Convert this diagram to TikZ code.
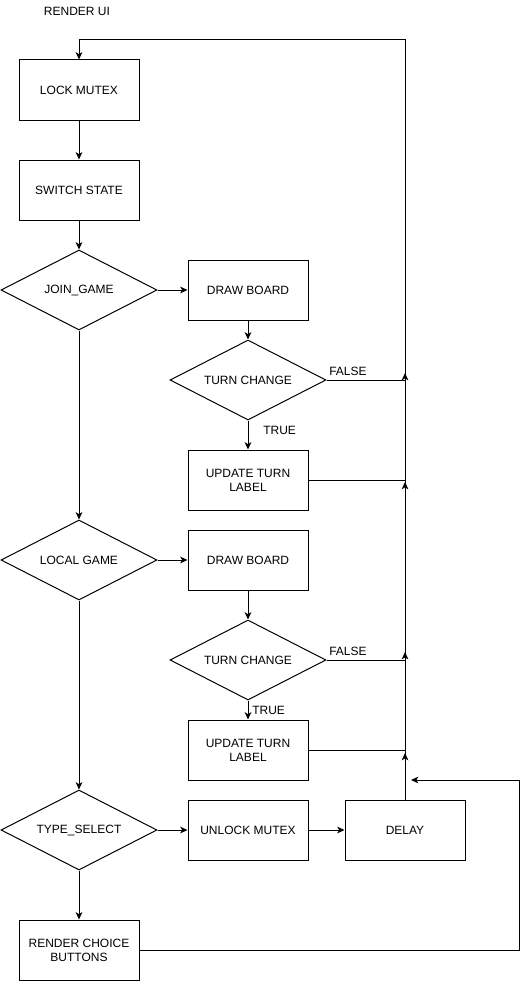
\documentclass[tikz,border=0pt]{standalone}
\usepackage{fontspec}
\setmainfont{Liberation Sans}
\usetikzlibrary{arrows.meta,shapes.geometric}
\tikzset{
  box/.style={draw,line width=0.75pt,minimum width=90pt,minimum height=45pt,inner sep=0pt,align=center,font=\fontsize{9}{10.5}\selectfont},
  decide/.style={draw,diamond,aspect=2,line width=0.75pt,minimum width=117pt,minimum height=60pt,inner sep=0pt,align=center,font=\fontsize{9}{10.5}\selectfont},
  flow/.style={line width=0.75pt,-{Stealth[length=5.5pt,width=5pt,inset=1.5pt]}},
  wire/.style={line width=0.75pt},
  tag/.style={inner sep=0pt,font=\fontsize{9}{10.5}\selectfont}
}

\begin{document}
\begin{tikzpicture}[x=0.75pt,y=-0.75pt]
  \useasboundingbox (0,0) rectangle (528,981);
  \node[tag] (title) at (77,11) {RENDER UI};
  % left column
  \node[box] (lock) at (79,90) {LOCK MUTEX};
  \node[box] (switch) at (79,190) {SWITCH STATE};
  \node[decide] (join) at (79,290) {JOIN\_GAME};
  \node[decide] (local) at (79,560) {LOCAL GAME};
  \node[decide] (type) at (79,830) {TYPE\_SELECT};
  \node[box] (render) at (79,950) {RENDER CHOICE\\BUTTONS};
  % right column
  \node[box] (board1) at (248,290) {DRAW BOARD};
  \node[decide] (turn1) at (248,380) {TURN CHANGE};
  \node[box] (upd1) at (248,480) {UPDATE TURN\\LABEL};
  \node[box] (board2) at (248,560) {DRAW BOARD};
  \node[decide] (turn2) at (248,660) {TURN CHANGE};
  \node[box] (upd2) at (248,750) {UPDATE TURN\\LABEL};
  \node[box] (unlock) at (248,830) {UNLOCK MUTEX};
  \node[box] (delay) at (405,830) {DELAY};
  % points on the return line
  \coordinate (top) at (405,40);
  \coordinate (j1) at (405,380);
  \coordinate (a1) at (405,373);
  \coordinate (j2) at (405,480);
  \coordinate (a2) at (405,482);
  \coordinate (j3) at (405,660);
  \coordinate (a3) at (405,652);
  \coordinate (j4) at (405,750);
  \coordinate (a4) at (405,753);
  \coordinate (back) at (519,950);
  \coordinate (in) at (411,780);

  \draw[flow] (lock) -- (switch);
  \draw[flow] (switch) -- (join);
  \draw[flow] (join) -- (board1);
  \draw[flow] (join) -- (local);
  \draw[flow] (local) -- (board2);
  \draw[flow] (local) -- (type);
  \draw[flow] (type) -- (render);
  \draw[flow] (type) -- (unlock);
  \draw[flow] (unlock) -- (delay);
  \draw[flow] (board1) -- (turn1);
  \draw[flow] (turn1) -- (upd1);
  \draw[flow] (board2) -- (turn2);
  \draw[flow] (turn2) -- (upd2);

  \draw[wire] (turn1.east) -- (j1);
  \draw[wire] (upd1.east) -- (j2);
  \draw[wire] (turn2.east) -- (j3);
  \draw[wire] (upd2.east) -- (j4);
  \draw[flow] (delay.north) -- (top) -| (lock.north);
  \foreach \p in {a1,a2,a3,a4}
    \draw[flow] (delay.north) -- (\p);
  \draw[flow] (render.east) -- (back) |- (in);

  \node[tag,anchor=west] (f1) at (329,371) {FALSE};
  \node[tag,anchor=west] (t1) at (263,430) {TRUE};
  \node[tag,anchor=west] (f2) at (329,651) {FALSE};
  \node[tag,anchor=west] (t2) at (252,710) {TRUE};
\end{tikzpicture}
\end{document}
